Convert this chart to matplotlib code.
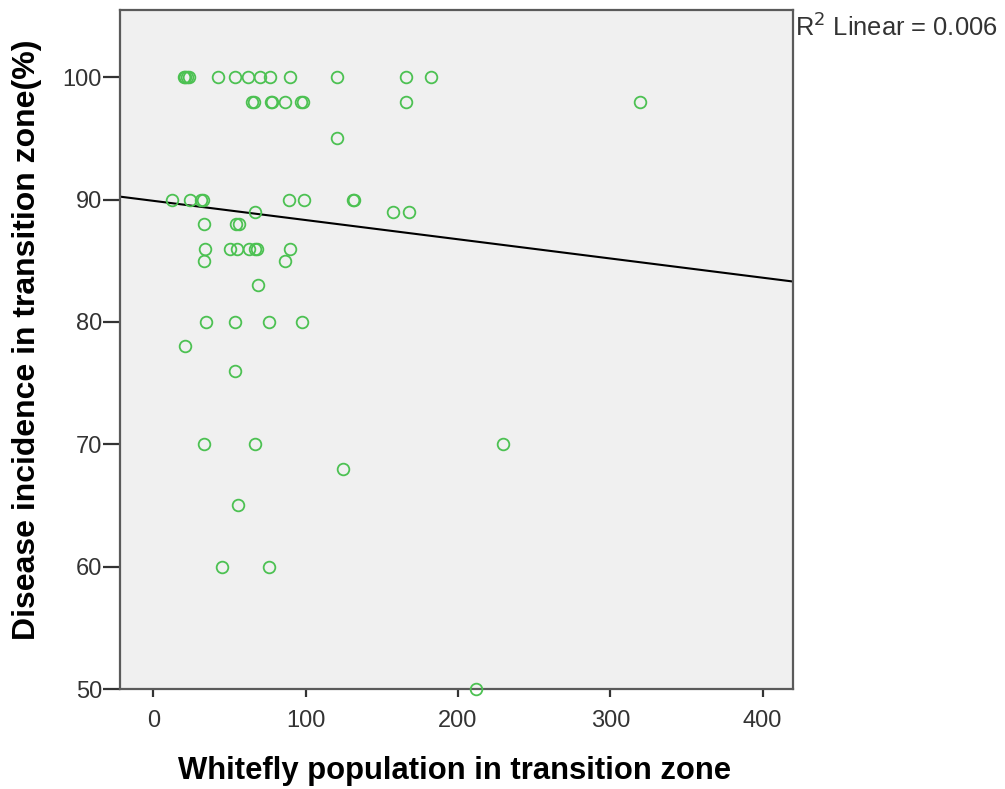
import numpy as np
import matplotlib
matplotlib.use("Agg")
import matplotlib.pyplot as plt
from matplotlib import font_manager

# Whitefly counts and disease incidence (%) per plot
whitefly = [
    20, 21, 22, 23, 42.6, 53.8, 62.3, 70, 76.7, 89.8, 120.4, 166, 182,
    64.5, 66, 77, 78, 86.6, 97, 98, 166, 319.5,
    120.4,
    12.2, 24.3, 31.5, 32.5, 88.7, 98.6, 131, 132,
    66.5, 157, 168,
    33, 54.4, 56,
    34, 50.5, 54.9, 62.5, 66.5, 68, 89.8,
    33, 86.6,
    68.6,
    34.8, 53.8, 75.6, 97.5,
    21, 53.8,
    33, 66.5, 229.7,
    124.4,
    55.5,
    45, 75.6,
    212,
]
incidence = [
    100, 100, 100, 100, 100, 100, 100, 100, 100, 100, 100, 100, 100,
    98, 98, 98, 98, 98, 98, 98, 98, 98,
    95,
    90, 90, 90, 90, 90, 90, 90, 90,
    89, 89, 89,
    88, 88, 88,
    86, 86, 86, 86, 86, 86, 86,
    85, 85,
    83,
    80, 80, 80, 80,
    78, 76,
    70, 70, 70,
    68,
    65,
    60, 60,
    50,
]

x_ticks = [0, 100, 200, 300, 400]
y_ticks = [50, 60, 70, 80, 90, 100]
x_label = "Whitefly population in transition zone"
y_label = "Disease incidence in transition zone(%)"

# Linear fit line as reported by the regression
fit_intercept = 89.9
fit_slope = -0.0157
r2_text = "0.006"

names = {f.name for f in font_manager.fontManager.ttflist}
base_font = "Liberation Sans" if "Liberation Sans" in names else "DejaVu Sans"
narrow_font = "Liberation Sans Narrow" if "Liberation Sans Narrow" in names else base_font
plt.rcParams["font.family"] = [base_font, "DejaVu Sans"]

W, H = 1005, 789
fig = plt.figure(figsize=(W / 100, H / 100), dpi=100)
ax = fig.add_axes([120 / W, 1 - 689 / H, 673 / W, 679 / H])
ax.set_facecolor("#F0F0F0")

ax.plot(whitefly, incidence, linestyle="none", marker="o", markersize=8.4,
        markerfacecolor="none", markeredgecolor="#4CC152", markeredgewidth=1.3,
        clip_on=False, zorder=3)

xlim = (-22, 420)
xs = np.array(xlim)
ax.plot(xs, fit_intercept + fit_slope * xs, color="black", linewidth=1.5, zorder=2)

ax.set_xlim(*xlim)
ax.set_ylim(50, 105.5)
ax.set_xticks(x_ticks)
ax.set_yticks(y_ticks)

for s in ax.spines.values():
    s.set_color("#5A5A5A")
    s.set_linewidth(1.6)

ax.tick_params(axis="both", direction="out", width=1.6, color="#333333",
               labelsize=17, labelcolor="#333333")
ax.tick_params(axis="x", length=6, pad=9)
ax.tick_params(axis="y", length=12.5, pad=0.5)

# Axis titles, sized to span their measured lengths
xl = fig.text((178 + 731) / 2 / W, 1 - 771 / H, x_label, fontsize=22,
              fontweight="bold", ha="center", va="center")
yl = fig.text(27 / W, 1 - 340 / H, y_label, fontsize=23, fontweight="bold",
              rotation=90, ha="center", va="center",
              family=[narrow_font, "DejaVu Sans"])

r2 = fig.text(795 / W, 1 - 36 / H, "R$^2$ Linear = " + r2_text, fontsize=18,
              color="#333333", ha="left", va="baseline")

renderer = fig.canvas.get_renderer()
for txt, target, horiz in ((xl, 553, True), (yl, 601, False), (r2, 203, True)):
    bb = txt.get_window_extent(renderer)
    length = bb.width if horiz else bb.height
    txt.set_fontsize(txt.get_fontsize() * target / length)

fig.savefig("out.png", dpi=100)
